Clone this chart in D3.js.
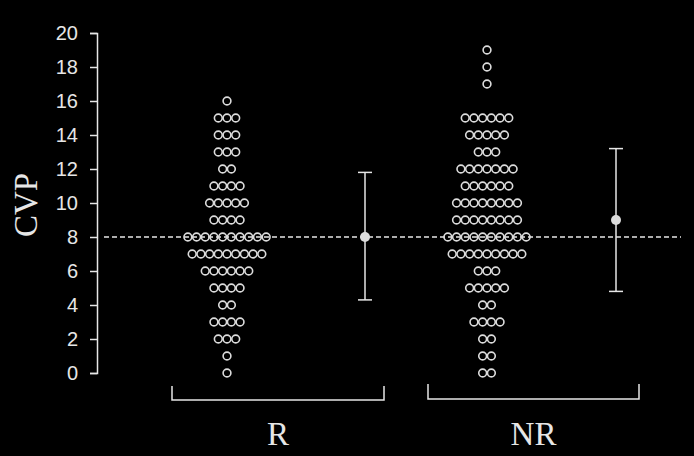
<!DOCTYPE html>
<html>
<head>
<meta charset="utf-8">
<script src="https://cdn.jsdelivr.net/npm/d3@7"></script>
<style>
  html, body { margin: 0; padding: 0; background: #000; }
</style>
</head>
<body>
<div id="chart"></div>
<script>
// groups and their dot counts per CVP value (index = value 0..20)
const groups = ["R", "NR"];
const yTicks = [0, 2, 4, 6, 8, 10, 12, 14, 16, 18, 20];
const countsR  = [1, 1, 3, 4, 2, 4, 6, 9, 10, 4, 5, 4, 2, 3, 3, 3, 1, 0, 0, 0, 0];
const countsNR = [2, 2, 2, 4, 2, 5, 3, 9, 10, 8, 8, 6, 7, 3, 5, 6, 0, 1, 1, 1, 0];
const means  = [8, 9];
const uppers = [11.8, 13.2];
const lowers = [4.3, 4.8];
const refLine = 8;

const width = 694, height = 456;
const fg = "#e6e6e6";

const svg = d3.select("#chart")
  .append("svg")
  .attr("width", width)
  .attr("height", height)
  .style("background", "#000");

// scales
const y = d3.scaleLinear().domain([0, 20]).range([373, 33]);
const xDots = d3.scalePoint().domain(groups).range([227, 487]);
const xErr = d3.scalePoint().domain(groups).range([365, 616]);

// y axis
const yAxis = d3.axisLeft(y).tickValues(yTicks).tickSize(7).tickPadding(12).tickSizeOuter(7);
const gy = svg.append("g")
  .attr("transform", "translate(97,0)")
  .call(yAxis);
gy.selectAll("path, line").attr("stroke", fg).attr("stroke-width", 1.5);
gy.selectAll("text")
  .attr("fill", fg)
  .style("font-family", "Liberation Sans, Arial, sans-serif")
  .style("font-size", "20px");

// y label
svg.append("text")
  .attr("transform", "translate(37,205) rotate(-90)")
  .attr("text-anchor", "middle")
  .attr("fill", fg)
  .style("font-family", "Liberation Serif, Times New Roman, serif")
  .style("font-size", "33px")
  .text("CVP");

// reference dashed line
svg.append("line")
  .attr("x1", 104).attr("x2", 681)
  .attr("y1", y(refLine)).attr("y2", y(refLine))
  .attr("stroke", fg)
  .attr("stroke-width", 1.3)
  .attr("stroke-dasharray", "5,3");

// dots
const spacing = 8.7;
const dots = [];
[countsR, countsNR].forEach((counts, gi) => {
  counts.forEach((n, v) => {
    for (let i = 0; i < n; i++) {
      dots.push({ group: groups[gi], value: v, off: (i - (n - 1) / 2) * spacing });
    }
  });
});

svg.append("g")
  .selectAll("circle")
  .data(dots)
  .enter()
  .append("circle")
  .attr("cx", (d) => xDots(d.group) + d.off)
  .attr("cy", (d) => y(d.value))
  .attr("r", 3.9)
  .attr("fill", "none")
  .attr("stroke", "#dcdcdc")
  .attr("stroke-width", 1.6);

// error bars
const err = svg.append("g");
groups.forEach((g, i) => {
  const cx = xErr(g);
  err.append("line")
    .attr("x1", cx).attr("x2", cx)
    .attr("y1", y(uppers[i])).attr("y2", y(lowers[i]))
    .attr("stroke", fg).attr("stroke-width", 1.5);
  [uppers[i], lowers[i]].forEach((v) => {
    err.append("line")
      .attr("x1", cx - 7).attr("x2", cx + 7)
      .attr("y1", y(v)).attr("y2", y(v))
      .attr("stroke", fg).attr("stroke-width", 1.5);
  });
  err.append("circle")
    .attr("cx", cx).attr("cy", y(means[i]))
    .attr("r", 5)
    .attr("fill", "#dcdcdc");
});

// group brackets and labels
const brackets = [
  { x1: 172, x2: 384, yb: 400, yt: 386 },
  { x1: 428, x2: 639, yb: 399, yt: 384 }
];
groups.forEach((g, i) => {
  const b = brackets[i];
  svg.append("path")
    .attr("d", `M${b.x1},${b.yt}V${b.yb}H${b.x2}V${b.yt}`)
    .attr("fill", "none")
    .attr("stroke", fg)
    .attr("stroke-width", 1.5);
  svg.append("text")
    .attr("x", (b.x1 + b.x2) / 2)
    .attr("y", 445)
    .attr("text-anchor", "middle")
    .attr("fill", fg)
    .style("font-family", "Liberation Serif, Times New Roman, serif")
    .style("font-size", "33px")
    .text(g);
});
</script>
</body>
</html>
